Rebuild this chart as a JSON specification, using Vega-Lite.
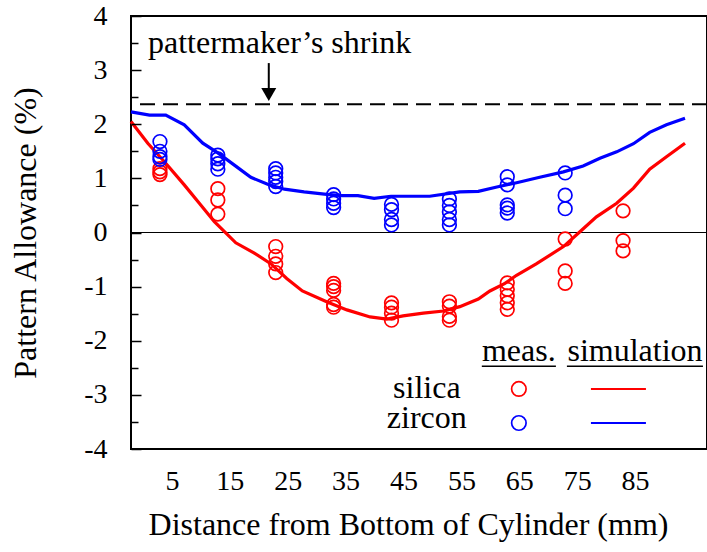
{
  "$schema": "https://vega.github.io/schema/vega-lite/v6.json",
  "width": 576,
  "height": 433,
  "autosize": {"type": "none"},
  "padding": {"left": 131, "top": 16, "right": 0, "bottom": 103},
  "background": "white",
  "config": {
    "view": {"stroke": "black", "strokeWidth": 2},
    "font": "Liberation Serif"
  },
  "datasets": {
    "meas": [
      {"x": 5, "y": 1.18, "material": "silica"},
      {"x": 5, "y": 1.12, "material": "silica"},
      {"x": 5, "y": 1.07, "material": "silica"},
      {"x": 15, "y": 0.81, "material": "silica"},
      {"x": 15, "y": 0.60, "material": "silica"},
      {"x": 15, "y": 0.34, "material": "silica"},
      {"x": 25, "y": -0.26, "material": "silica"},
      {"x": 25, "y": -0.44, "material": "silica"},
      {"x": 25, "y": -0.58, "material": "silica"},
      {"x": 25, "y": -0.74, "material": "silica"},
      {"x": 35, "y": -0.94, "material": "silica"},
      {"x": 35, "y": -1.0, "material": "silica"},
      {"x": 35, "y": -1.07, "material": "silica"},
      {"x": 35, "y": -1.33, "material": "silica"},
      {"x": 35, "y": -1.38, "material": "silica"},
      {"x": 45, "y": -1.30, "material": "silica"},
      {"x": 45, "y": -1.38, "material": "silica"},
      {"x": 45, "y": -1.49, "material": "silica"},
      {"x": 45, "y": -1.62, "material": "silica"},
      {"x": 55, "y": -1.28, "material": "silica"},
      {"x": 55, "y": -1.36, "material": "silica"},
      {"x": 55, "y": -1.55, "material": "silica"},
      {"x": 55, "y": -1.62, "material": "silica"},
      {"x": 65, "y": -0.93, "material": "silica"},
      {"x": 65, "y": -1.05, "material": "silica"},
      {"x": 65, "y": -1.17, "material": "silica"},
      {"x": 65, "y": -1.30, "material": "silica"},
      {"x": 65, "y": -1.42, "material": "silica"},
      {"x": 75, "y": -0.12, "material": "silica"},
      {"x": 75, "y": -0.71, "material": "silica"},
      {"x": 75, "y": -0.94, "material": "silica"},
      {"x": 85, "y": 0.40, "material": "silica"},
      {"x": 85, "y": -0.15, "material": "silica"},
      {"x": 85, "y": -0.34, "material": "silica"},
      {"x": 5, "y": 1.68, "material": "zircon"},
      {"x": 5, "y": 1.50, "material": "zircon"},
      {"x": 5, "y": 1.40, "material": "zircon"},
      {"x": 5, "y": 1.35, "material": "zircon"},
      {"x": 15, "y": 1.43, "material": "zircon"},
      {"x": 15, "y": 1.36, "material": "zircon"},
      {"x": 15, "y": 1.27, "material": "zircon"},
      {"x": 15, "y": 1.17, "material": "zircon"},
      {"x": 25, "y": 1.18, "material": "zircon"},
      {"x": 25, "y": 1.10, "material": "zircon"},
      {"x": 25, "y": 1.02, "material": "zircon"},
      {"x": 25, "y": 0.94, "material": "zircon"},
      {"x": 25, "y": 0.85, "material": "zircon"},
      {"x": 35, "y": 0.70, "material": "zircon"},
      {"x": 35, "y": 0.62, "material": "zircon"},
      {"x": 35, "y": 0.54, "material": "zircon"},
      {"x": 35, "y": 0.46, "material": "zircon"},
      {"x": 45, "y": 0.52, "material": "zircon"},
      {"x": 45, "y": 0.42, "material": "zircon"},
      {"x": 45, "y": 0.24, "material": "zircon"},
      {"x": 45, "y": 0.14, "material": "zircon"},
      {"x": 55, "y": 0.62, "material": "zircon"},
      {"x": 55, "y": 0.50, "material": "zircon"},
      {"x": 55, "y": 0.38, "material": "zircon"},
      {"x": 55, "y": 0.24, "material": "zircon"},
      {"x": 55, "y": 0.14, "material": "zircon"},
      {"x": 65, "y": 1.03, "material": "zircon"},
      {"x": 65, "y": 0.88, "material": "zircon"},
      {"x": 65, "y": 0.51, "material": "zircon"},
      {"x": 65, "y": 0.45, "material": "zircon"},
      {"x": 65, "y": 0.36, "material": "zircon"},
      {"x": 75, "y": 1.10, "material": "zircon"},
      {"x": 75, "y": 0.69, "material": "zircon"},
      {"x": 75, "y": 0.44, "material": "zircon"}
    ],
    "sim": [
      {"x": 0, "y": 2.05, "material": "silica"},
      {"x": 2.9, "y": 1.65, "material": "silica"},
      {"x": 6.0, "y": 1.28, "material": "silica"},
      {"x": 9.2, "y": 0.88, "material": "silica"},
      {"x": 11.8, "y": 0.54, "material": "silica"},
      {"x": 14.4, "y": 0.20, "material": "silica"},
      {"x": 18.1, "y": -0.19, "material": "silica"},
      {"x": 21.3, "y": -0.38, "material": "silica"},
      {"x": 24.2, "y": -0.58, "material": "silica"},
      {"x": 26.9, "y": -0.85, "material": "silica"},
      {"x": 29.6, "y": -1.08, "material": "silica"},
      {"x": 33.8, "y": -1.28, "material": "silica"},
      {"x": 37.3, "y": -1.43, "material": "silica"},
      {"x": 41.3, "y": -1.56, "material": "silica"},
      {"x": 44.2, "y": -1.60, "material": "silica"},
      {"x": 47.0, "y": -1.54, "material": "silica"},
      {"x": 50.5, "y": -1.49, "material": "silica"},
      {"x": 54.0, "y": -1.45, "material": "silica"},
      {"x": 56.8, "y": -1.37, "material": "silica"},
      {"x": 60.0, "y": -1.23, "material": "silica"},
      {"x": 62.0, "y": -1.08, "material": "silica"},
      {"x": 64.6, "y": -0.94, "material": "silica"},
      {"x": 66.6, "y": -0.79, "material": "silica"},
      {"x": 70.0, "y": -0.58, "material": "silica"},
      {"x": 74.7, "y": -0.26, "material": "silica"},
      {"x": 77.5, "y": 0.01, "material": "silica"},
      {"x": 80.4, "y": 0.29, "material": "silica"},
      {"x": 83.9, "y": 0.54, "material": "silica"},
      {"x": 86.8, "y": 0.82, "material": "silica"},
      {"x": 89.6, "y": 1.17, "material": "silica"},
      {"x": 92.5, "y": 1.40, "material": "silica"},
      {"x": 95.7, "y": 1.65, "material": "silica"},
      {"x": 0, "y": 2.23, "material": "zircon"},
      {"x": 3.2, "y": 2.17, "material": "zircon"},
      {"x": 6.0, "y": 2.17, "material": "zircon"},
      {"x": 9.2, "y": 1.99, "material": "zircon"},
      {"x": 12.4, "y": 1.65, "material": "zircon"},
      {"x": 15.0, "y": 1.47, "material": "zircon"},
      {"x": 17.8, "y": 1.25, "material": "zircon"},
      {"x": 20.7, "y": 1.02, "material": "zircon"},
      {"x": 23.6, "y": 0.89, "material": "zircon"},
      {"x": 26.5, "y": 0.80, "material": "zircon"},
      {"x": 29.9, "y": 0.75, "material": "zircon"},
      {"x": 33.4, "y": 0.71, "material": "zircon"},
      {"x": 36.3, "y": 0.68, "material": "zircon"},
      {"x": 39.2, "y": 0.68, "material": "zircon"},
      {"x": 42.0, "y": 0.63, "material": "zircon"},
      {"x": 44.9, "y": 0.67, "material": "zircon"},
      {"x": 51.6, "y": 0.67, "material": "zircon"},
      {"x": 56.8, "y": 0.75, "material": "zircon"},
      {"x": 60.0, "y": 0.76, "material": "zircon"},
      {"x": 63.2, "y": 0.84, "material": "zircon"},
      {"x": 66.6, "y": 0.92, "material": "zircon"},
      {"x": 70.6, "y": 1.02, "material": "zircon"},
      {"x": 74.7, "y": 1.12, "material": "zircon"},
      {"x": 78.1, "y": 1.23, "material": "zircon"},
      {"x": 81.0, "y": 1.37, "material": "zircon"},
      {"x": 83.9, "y": 1.49, "material": "zircon"},
      {"x": 86.8, "y": 1.64, "material": "zircon"},
      {"x": 89.6, "y": 1.85, "material": "zircon"},
      {"x": 92.5, "y": 1.99, "material": "zircon"},
      {"x": 95.7, "y": 2.11, "material": "zircon"}
    ],
    "legendText": [
      {"x": 67.0, "y": -2.37, "label": "meas."},
      {"x": 87.06, "y": -2.37, "label": "simulation"},
      {"x": 51.1, "y": -3.05, "label": "silica"},
      {"x": 51.1, "y": -3.61, "label": "zircon"}
    ],
    "underlines": [
      {"x": 60.6, "x2": 73.4, "y": -2.47},
      {"x": 75.3, "x2": 98.8, "y": -2.47}
    ],
    "legendSym": [
      {"x": 67.0, "y": -2.89, "material": "silica"},
      {"x": 67.0, "y": -3.52, "material": "zircon"}
    ],
    "legendLine": [
      {"x": 79.45, "x2": 88.95, "y": -2.89, "material": "silica"},
      {"x": 79.45, "x2": 88.95, "y": -3.52, "material": "zircon"}
    ]
  },
  "encoding": {
    "x": {
      "field": "x",
      "type": "quantitative",
      "scale": {"domain": [0, 99.5], "nice": false, "zero": false},
      "axis": {
        "title": "Distance from Bottom of Cylinder (mm)",
        "values": [5, 15, 25, 35, 45, 55, 65, 75, 85],
        "ticks": false,
        "domain": false,
        "grid": false,
        "labelOffset": 12,
        "labelPadding": 18,
        "labelFontSize": 28,
        "labelColor": "black",
        "labelFont": "Liberation Serif",
        "titleFont": "Liberation Serif",
        "titleFontSize": 32,
        "titleFontWeight": "normal",
        "titleColor": "black",
        "titlePadding": 14,
        "titleX": 277
      }
    },
    "y": {
      "field": "y",
      "type": "quantitative",
      "scale": {"domain": [-4, 4], "nice": false, "zero": false},
      "axis": {
        "title": "Pattern Allowance (%)",
        "values": [-4, -3.5, -3, -2.5, -2, -1.5, -1, -0.5, 0, 0.5, 1, 1.5, 2, 2.5, 3, 3.5, 4],
        "labelExpr": "datum.value % 1 === 0 ? '' + datum.value : ''",
        "ticks": true,
        "tickSize": -10,
        "tickDash": {"condition": {"test": "datum.value % 1 !== 0", "value": [7, 40]}, "value": [40, 1]},
        "tickColor": "black",
        "tickWidth": 1.5,
        "domain": false,
        "grid": false,
        "zindex": 2,
        "labelPadding": 34,
        "labelFontSize": 28,
        "labelColor": "black",
        "labelFont": "Liberation Serif",
        "labelBound": false,
        "labelFlush": false,
        "labelOverlap": false,
        "titleFont": "Liberation Serif",
        "titleFontSize": 32,
        "titleFontWeight": "normal",
        "titleColor": "black",
        "titlePadding": 41
      }
    }
  },
  "layer": [
    {
      "data": {"values": [{"y": 0}]},
      "mark": {"type": "rule", "color": "black", "strokeWidth": 1.2},
      "encoding": {"x": null, "y": {"field": "y", "type": "quantitative"}}
    },
    {
      "data": {"values": [{"y": 2.37}]},
      "mark": {"type": "rule", "color": "black", "strokeWidth": 2, "strokeDash": [15, 8]},
      "encoding": {"x": null, "y": {"field": "y", "type": "quantitative"}}
    },
    {
      "data": {"name": "sim"},
      "mark": {"type": "line", "strokeWidth": 3.2},
      "encoding": {
        "color": {"field": "material", "type": "nominal", "scale": {"domain": ["silica", "zircon"], "range": ["#ff0000", "#0000ff"]}, "legend": null}
      }
    },
    {
      "data": {"name": "meas"},
      "mark": {"type": "point", "shape": "circle", "filled": false, "size": 185, "strokeWidth": 1.7, "opacity": 1},
      "encoding": {
        "color": {"field": "material", "type": "nominal", "scale": {"domain": ["silica", "zircon"], "range": ["#ff0000", "#0000ff"]}, "legend": null}
      }
    },
    {
      "data": {"values": [{"x": 23.8, "y": 3.13, "y2": 2.55}]},
      "mark": {"type": "rule", "color": "black", "strokeWidth": 2},
      "encoding": {"y2": {"field": "y2"}}
    },
    {
      "data": {"values": [{"x": 23.8, "y": 2.55}]},
      "mark": {"type": "point", "shape": "triangle-down", "filled": true, "color": "black", "size": 225, "opacity": 1}
    },
    {
      "data": {"values": [{"x": 2.94, "y": 3.31, "label": "pattermaker’s shrink"}]},
      "mark": {"type": "text", "align": "left", "baseline": "alphabetic", "fontSize": 32, "font": "Liberation Serif", "color": "black"},
      "encoding": {"text": {"field": "label"}}
    },
    {
      "data": {"name": "legendText"},
      "mark": {"type": "text", "align": "center", "baseline": "alphabetic", "fontSize": 32, "font": "Liberation Serif", "color": "black"},
      "encoding": {"text": {"field": "label"}}
    },
    {
      "data": {"name": "underlines"},
      "mark": {"type": "rule", "color": "black", "strokeWidth": 1.6},
      "encoding": {"x2": {"field": "x2"}}
    },
    {
      "data": {"name": "legendSym"},
      "mark": {"type": "point", "shape": "circle", "filled": false, "size": 210, "strokeWidth": 1.7, "opacity": 1},
      "encoding": {
        "color": {"field": "material", "type": "nominal", "scale": {"domain": ["silica", "zircon"], "range": ["#ff0000", "#0000ff"]}, "legend": null}
      }
    },
    {
      "data": {"name": "legendLine"},
      "mark": {"type": "rule", "strokeWidth": 2},
      "encoding": {
        "x2": {"field": "x2"},
        "color": {"field": "material", "type": "nominal", "scale": {"domain": ["silica", "zircon"], "range": ["#ff0000", "#0000ff"]}, "legend": null}
      }
    }
  ]
}
